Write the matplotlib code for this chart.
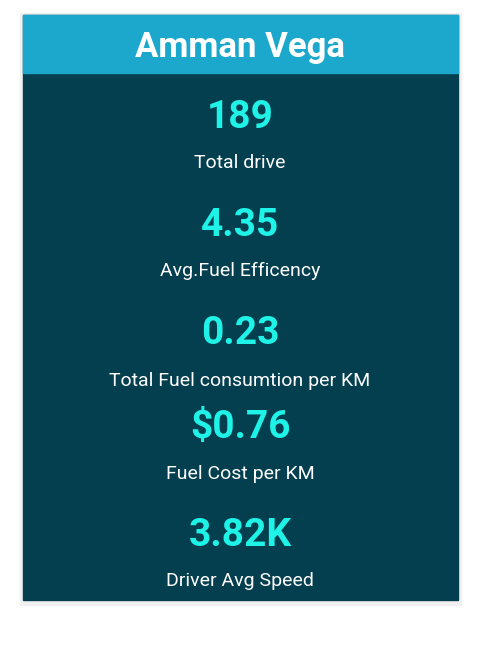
import matplotlib.pyplot as plt
from matplotlib.patches import Rectangle

# card content
title = 'Amman Vega'
values = ['189', '4.35', '0.23', '$0.76', '3.82K']
labels = ['Total drive', 'Avg.Fuel Efficency', 'Total Fuel consumtion per KM',
          'Fuel Cost per KM', 'Driver Avg Speed']
value_y = [117, 225, 333, 428, 535]
label_y = [163, 271, 381, 474, 581]

fig = plt.figure(figsize=(4.88, 6.5), dpi=100)
ax = fig.add_axes([0, 0, 1, 1])
ax.set_xlim(0, 488)
ax.set_ylim(650, 0)
ax.axis('off')

# shadow, body, header
ax.add_patch(Rectangle((20, 13), 441, 592, color='#f0f0f0', zorder=0))
ax.add_patch(Rectangle((23, 15), 435, 585, color='#033f4f', zorder=1))
ax.add_patch(Rectangle((23, 15), 435, 58, color='#1ba8cc', zorder=2))

cx = 240
ax.text(cx, 47, title, ha='center', va='center', color='white',
        fontsize=25, fontweight='bold', family='Roboto', zorder=3)
for v, l, vy, ly in zip(values, labels, value_y, label_y):
    ax.text(cx, vy, v, ha='center', va='center', color='#1ff2e6',
            fontsize=28, fontweight='bold', family='Roboto', zorder=3)
    ax.text(cx, ly, l, ha='center', va='center', color='white',
            fontsize=14, family='Roboto', zorder=3)

fig.savefig('out.png', dpi=100)
